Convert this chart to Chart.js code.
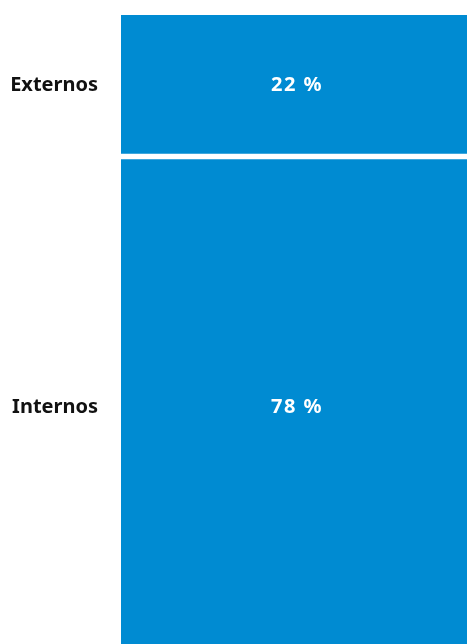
<!DOCTYPE html>
<html>
<head>
<meta charset="utf-8">
<script src="https://cdn.jsdelivr.net/npm/chart.js@4"></script>
<style>
  html, body { margin: 0; padding: 0; background: #fff; overflow: hidden; }
  #wrap { width: 467px; height: 658px; position: relative; }
</style>
</head>
<body>
<div id="wrap"><canvas id="shareChart"></canvas></div>
<script>
const categories = ['Externos', 'Internos'];
const shares = [22, 78];
const BAR_COLOR = '#008bd2';

// cumulative ranges so each bar's thickness equals its share
const ranges = [];
let acc = 0;
shares.forEach(v => { ranges.push([acc, acc + v]); acc += v; });
const mids = ranges.map(r => (r[0] + r[1]) / 2);

const valueLabels = {
  id: 'valueLabels',
  afterDatasetsDraw(chart) {
    const ctx = chart.ctx;
    ctx.save();
    ctx.fillStyle = '#fff';
    ctx.font = 'bold 20px "Noto Sans"';
    ctx.letterSpacing = '1.5px';
    ctx.textAlign = 'center';
    ctx.textBaseline = 'middle';
    chart.data.datasets.forEach((ds, i) => {
      const bar = chart.getDatasetMeta(i).data[0];
      ctx.fillText(shares[i] + ' %', bar.x + 3, (bar.y + bar.base) / 2);
    });
    ctx.restore();
  }
};

new Chart(document.getElementById('shareChart'), {
  type: 'bar',
  data: {
    labels: ['share'],
    datasets: categories.map((c, i) => ({
      label: c,
      data: [ranges[i]],
      backgroundColor: BAR_COLOR,
      borderColor: '#fff',
      borderSkipped: false,
      borderWidth: i === 0 ? { top: 0, left: 0, right: 0, bottom: 3 } : { top: 3, left: 0, right: 0, bottom: 0 },
      grouped: false,
      barPercentage: 1,
      categoryPercentage: 1
    }))
  },
  options: {
    responsive: true,
    maintainAspectRatio: false,
    animation: false,
    layout: { padding: { top: 15, bottom: 0, left: 0, right: 0 } },
    plugins: { legend: { display: false }, tooltip: { enabled: false } },
    scales: {
      x: { display: false },
      y: {
        min: 0,
        max: 100,
        reverse: true,
        afterFit(scale) {
          scale.width = 121;
          scale.paddingTop = 0;
          scale.paddingBottom = 0;
        },
        afterBuildTicks(scale) { scale.ticks = mids.map(v => ({ value: v })); },
        ticks: {
          padding: 23,
          color: '#111',
          font: { family: '"Noto Sans"', size: 20, weight: 'bold' },
          callback: (v) => categories[mids.indexOf(v)]
        },
        grid: { display: false, drawTicks: false },
        border: { display: false }
      }
    }
  },
  plugins: [valueLabels]
});
</script>
</body>
</html>
